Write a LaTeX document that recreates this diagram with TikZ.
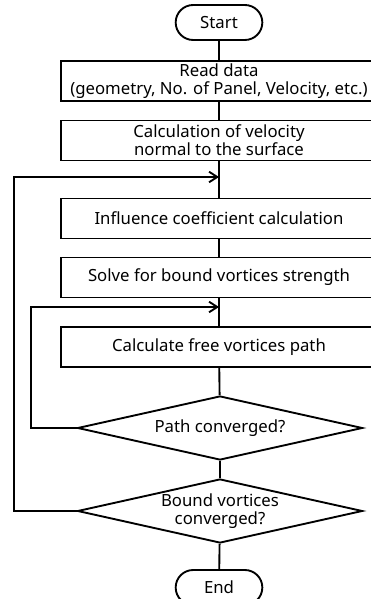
\documentclass[tikz,border=0pt]{standalone}
\usepackage{fontspec}
\setmainfont{Noto Sans}
\usetikzlibrary{positioning}
\usetikzlibrary{arrows.meta}
\usetikzlibrary{shapes.misc}
\usetikzlibrary{shapes.geometric}

\begin{document}
\begin{tikzpicture}[x=0.03cm, y=-0.03cm, line width=1.6pt,
    font=\fontsize{14.3}{15.5}\selectfont,
    term/.style={rounded rectangle, draw, minimum width=2.6cm, minimum height=1.05cm, inner sep=0pt},
    proc/.style={rectangle, draw, minimum width=9.48cm, minimum height=1.2cm, align=center, inner sep=0pt},
    cond/.style={diamond, draw, minimum width=8.55cm, minimum height=1.92cm, aspect=4.45, inner sep=0pt, align=center},
    flow/.style={-{Straight Barb[length=7pt,width=9pt]}}]
    \useasboundingbox (0,0) rectangle (371,599);

    \node[term] (start) at (219,22.5) {Start};
    \node[proc] (read)  at (219,81)   {Read data\\(geometry, No. of Panel, Velocity, etc.)};
    \node[proc] (velo)  at (219,140.5) {Calculation of velocity\\normal to the surface};
    \node[proc] (infl)  at (219,218.5) {Influence coefficient calculation};
    \node[proc] (solve) at (219,277.5) {Solve for bound vortices strength};
    \node[proc] (free)  at (219,347)  {Calculate free vortices path};
    \node[cond] (pathc) at (220,428)  {Path converged?};
    \node[cond] (bndc)  at (220,511)  {Bound vortices\\converged?};
    \node[term] (stop)  at (219,587.5) {End};

    % joins of the two loops
    \coordinate (j1) at (219,177);
    \coordinate (j2) at (219,307);
    \coordinate (outer) at (14,0);
    \coordinate (inner) at (31,0);

    \draw (start) -- (read);
    \draw (read) -- (velo);
    \draw (velo) -- (infl);
    \draw (infl) -- (solve);
    \draw (solve) -- (free);
    \draw (free) -- (pathc);
    \draw (pathc) -- (bndc);
    \draw (bndc) -- (stop);

    \draw[flow] (pathc.west) -| (inner |- j2) -- (j2);
    \draw[flow] (bndc.west) -| (outer |- j1) -- (j1);
\end{tikzpicture}
\end{document}
